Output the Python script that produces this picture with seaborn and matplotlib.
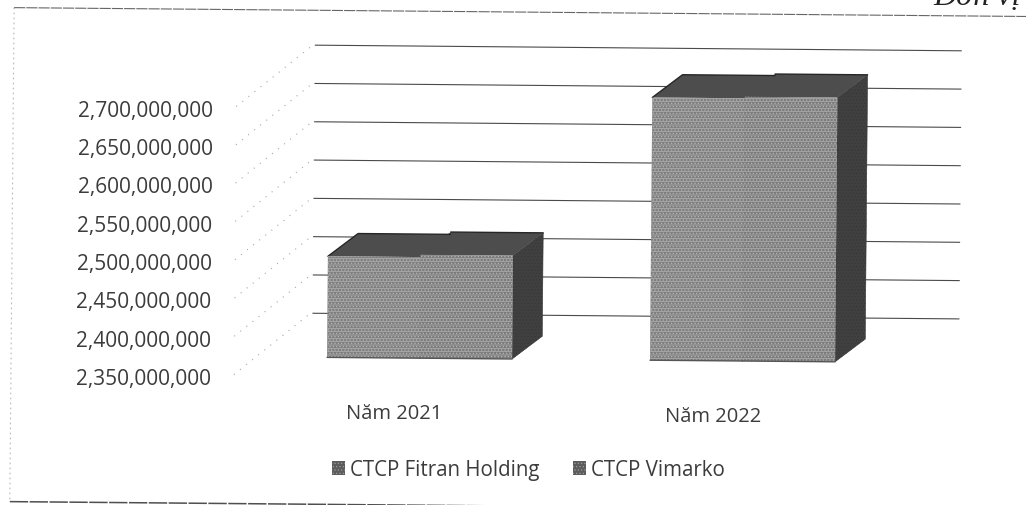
import pandas as pd
import matplotlib
matplotlib.use("Agg")
import matplotlib.pyplot as plt
import seaborn as sns
from matplotlib.patches import Polygon
from matplotlib.transforms import Affine2D

years = ["Năm 2021", "Năm 2022"]
fitran = [2482000000, 2693000000]
vimarko = [2485000000, 2695000000]
series_names = ["CTCP Fitran Holding", "CTCP Vimarko"]
value_ticks = [2350000000, 2400000000, 2450000000, 2500000000,
               2550000000, 2600000000, 2650000000, 2700000000]
unit_label = "Đơn vị"

# pixel calibration of the scanned chart
W, H = 1026, 506
CAT_PX = 323
CAT0_PX = 420.5
VAL_PX = 38.3 / 50000000
BASE_PY = 360
AXIS_MIN = value_ticks[0]
DEPTH = (30, 23)

sns.set_theme(style="white")
plt.rcParams["font.family"] = ["Open Sans", "DejaVu Sans"]
plt.rcParams["hatch.linewidth"] = 0.5
TEXT = "#3c3c3c"

df = pd.DataFrame({"year": years, series_names[0]: fitran, series_names[1]: vimarko})
df = df.melt(id_vars="year", var_name="series", value_name="value")

fig = plt.figure(figsize=(W / 100, H / 100), dpi=100)
ax = fig.add_axes([0, 0, 1, 1])
sns.barplot(data=df, x="year", y="value", hue="series", ax=ax, width=0.573, gap=0,
            palette=["#7f7f7f", "#7b7b7b"], saturation=1, linewidth=0, zorder=3)

ax.set_xlim(-CAT0_PX / CAT_PX, (W - CAT0_PX) / CAT_PX)
ax.set_ylim(AXIS_MIN - (H - BASE_PY) / VAL_PX, AXIS_MIN + BASE_PY / VAL_PX)
ax.axis("off")

# scan is a little rotated
tilt = Affine2D().rotate_deg_around(W / 2, H / 2, -0.5)


def shift(dx=0, dy=0):
    # data coords moved by screen pixels (y down), then tilted like the scan
    return ax.transData + Affine2D().translate(dx, -dy) + tilt


def cat_x(px):
    return (px - CAT0_PX) / CAT_PX


# back wall gridlines and the faint dotted diagonals down to the labels
LABEL_DY = 22
BACK_DY = -44
ax.hlines(value_ticks, cat_x(313), cat_x(960), color="#4a4a4a", linewidth=0.8,
          transform=shift(0, BACK_DY), zorder=1)
for v in value_ticks:
    y0 = v - LABEL_DY / VAL_PX
    y1 = v - BACK_DY / VAL_PX
    ax.plot([cat_x(235), cat_x(311)], [y0 + 4 / VAL_PX, y1], color="#a8a8a8", linewidth=0.8,
            linestyle=(0, (1, 6)), transform=shift(), zorder=1)
    ax.text(cat_x(212), y0, f"{v:,}", ha="right", va="center", fontsize=15, color=TEXT,
            transform=shift())

# 3d faces of every bar, heights come from the bars seaborn drew
dx, dy = DEPTH[0] / CAT_PX, DEPTH[1] / VAL_PX
for s, container in enumerate(ax.containers):
    for p in container:
        x, w, top = p.get_x(), p.get_width(), p.get_height()
        p.set_y(AXIS_MIN)
        p.set_height(top - AXIS_MIN)
        if s == 0:
            # run a pixel under the next series so no seam shows
            p.set_width(w + 1 / CAT_PX)
        p.set_transform(shift())
        p.set_hatch("-----.....")
        p.set_edgecolor("#b4b4b4")
        p.set_linewidth(0)
        ax.add_patch(Polygon([(x + w, AXIS_MIN), (x + w + dx, AXIS_MIN + dy),
                              (x + w + dx, top + dy), (x + w, top)],
                             facecolor="#404040", edgecolor="#383838", linewidth=0.4,
                             hatch=".....", transform=shift(), zorder=2))
        ax.add_patch(Polygon([(x, top), (x + w, top), (x + w + dx, top + dy), (x + dx, top + dy)],
                             facecolor="#4d4d4d", edgecolor="none", linewidth=0,
                             transform=shift(), zorder=2.5))
        # dark rim along the back of the top face, and its left side on the first series
        rim_x = [x + dx, x + w + dx]
        rim_y = [top + dy, top + dy]
        if s == 0:
            rim_x = [x] + rim_x
            rim_y = [top] + rim_y
        ax.plot(rim_x, rim_y, color="#262626", linewidth=1, transform=shift(), zorder=2.6)
        ax.plot([x, x + w], [AXIS_MIN, AXIS_MIN], color="#555555", linewidth=1,
                transform=shift(), zorder=4)

# category labels sit on the front of the floor
for i, (year, off) in enumerate(zip(years, [-25, -29])):
    ax.text(i, AXIS_MIN, year, ha="center", va="center", fontsize=14.5, color=TEXT,
            transform=shift(off, 55.5))

sns.move_legend(ax, "center", bbox_to_anchor=(0.515, 0.07), ncol=2, frameon=False, title=None,
                fontsize=14.8, handlelength=0.63, handleheight=0.63, handletextpad=0.25,
                columnspacing=1.6, labelcolor=TEXT)
for handle in ax.get_legend().legend_handles:
    handle.set_facecolor("#5c5c5c")
    handle.set_edgecolor("#9a9a9a")
    handle.set_hatch(".....")
    handle.set_linewidth(0)

# scanned frame of the chart object: soft left side, darker top and bottom
pixel = Affine2D().scale(1, -1).translate(0, H) + tilt
ax.plot([12, 12], [13, 507], color="#b8b8b8", linewidth=0.8, linestyle=(0, (1.5, 3)),
        transform=pixel, zorder=0)
ax.plot([12, W + 10], [13, 13], color="#666666", linewidth=0.8, linestyle=(0, (10, 1)),
        transform=pixel, zorder=0)
ax.plot([12, W + 10], [507, 507], color="#4f4f4f", linewidth=1.1, linestyle=(0, (12, 1)),
        transform=pixel, zorder=0)

fig.text(1021 / W, 1 - 5 / H, unit_label, ha="right", va="baseline", fontsize=23,
         family=["Liberation Serif"], style="italic", color="#222222")

fig.savefig("out.png", dpi=100)
